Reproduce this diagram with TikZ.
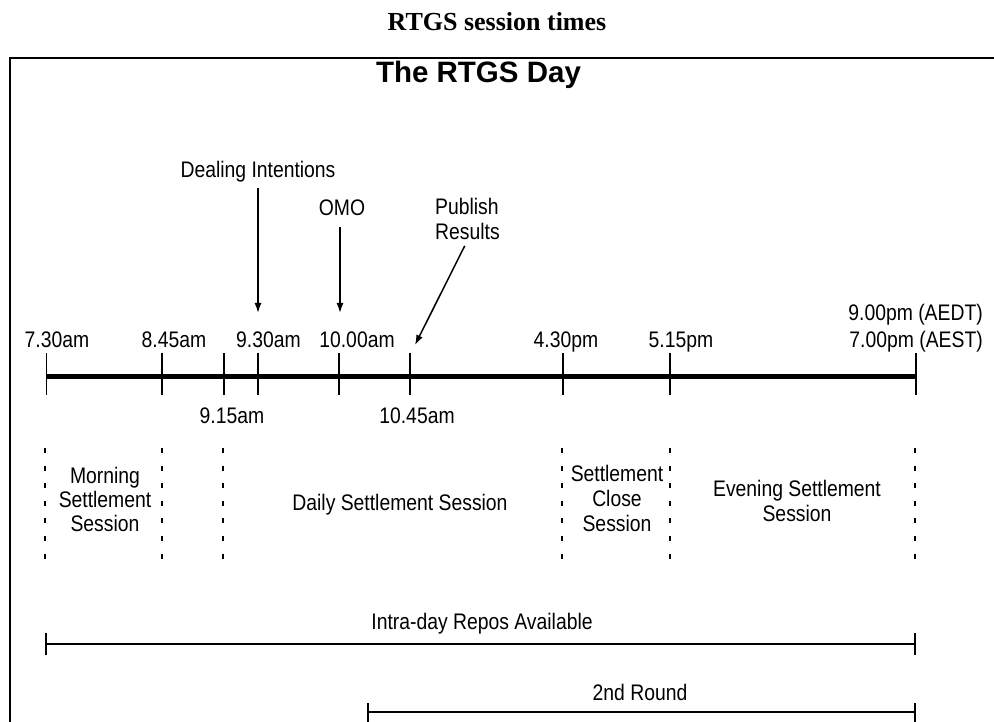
\documentclass[tikz,border=0pt]{standalone}
\usepackage{fontspec}
\setmainfont{Liberation Sans}
\newfontfamily\narrowsans[FakeStretch=0.86]{Liberation Sans}
\newfontfamily\titleserif{Liberation Serif}
\usetikzlibrary{arrows.meta}
\begin{document}
\begin{tikzpicture}[x=1pt,y=-1pt,
  lbl/.style={inner sep=0pt, anchor=base, font=\narrowsans\fontsize{22.5}{25}\selectfont},
  tickline/.style={line width=1.5pt},
  timeline/.style={line width=5pt, line cap=butt},
  arr/.style={-{Latex[length=10pt,width=7pt]}, line width=1.5pt},
  sepline/.style={line width=1.3pt, dash pattern=on 5pt off 12.6pt},
  spanline/.style={line width=1.8pt},
  frameline/.style={line width=2pt}]
\useasboundingbox (0,0) rectangle (994,722);
\fill[white] (0,0) rectangle (994,722);

% titles and frame
\node[lbl, font=\titleserif\bfseries\fontsize{26}{30}\selectfont] (title) at (497,31) {RTGS session times};
\draw[frameline] (994,58) -- (10,58) -- (10,722);
\node[lbl, font=\bfseries\fontsize{29.5}{34}\selectfont] (day) at (478.5,83) {The RTGS Day};

% timeline
\coordinate (tlstart) at (46.5,376);
\coordinate (tlend) at (916,376);
\draw[timeline] (tlstart) -- (tlend);
\foreach \n/\x in {a/46.5, b/162, c/224, d/258, e/339, f/410, g/563, h/670, i/916} {
  \coordinate (top\n) at (\x,353);
  \coordinate (bot\n) at (\x,395);
  \draw[tickline] (top\n) -- (bot\n);
}

% time labels
\node[lbl] (l730) at (57,347) {7.30am};
\node[lbl] (l845) at (174,347) {8.45am};
\node[lbl] (l930) at (268.5,347) {9.30am};
\node[lbl] (l1000) at (357,347) {10.00am};
\node[lbl] (l430) at (566,347) {4.30pm};
\node[lbl] (l515) at (681,347) {5.15pm};
\node[lbl, anchor=base east] (laedt) at (983,320) {9.00pm (AEDT)};
\node[lbl, anchor=base east] (laest) at (983,347) {7.00pm (AEST)};
\node[lbl] (l915) at (232,423.5) {9.15am};
\node[lbl] (l1045) at (417,423.5) {10.45am};

% events
\node[lbl] (deal) at (258,178) {Dealing Intentions};
\node[lbl] (omo) at (342,216) {OMO};
\node[lbl, anchor=base west] (pub1) at (435,215) {Publish};
\node[lbl, anchor=base west] (pub2) at (435,240) {Results};
\coordinate (dealtip) at (258,313);
\coordinate (omotip) at (340,313);
\coordinate (pubtip) at (415,345);
\draw[arr, shorten <=5.5pt] (deal.south) -- (dealtip);
\draw[arr, shorten <=11pt] (omo.south -| omotip) -- (omotip);
\draw[arr, shorten <=6pt] (pub2.south) -- (pubtip);

% session separators
\foreach \x in {45,162,223,562,670,915} {
  \draw[sepline] (\x,448) -- (\x,560);
}

% sessions
\node[lbl] (m1) at (105,483) {Morning};
\node[lbl] (m2) at (105,507) {Settlement};
\node[lbl] (m3) at (105,531) {Session};
\node[lbl] (daily) at (400,510) {Daily Settlement Session};
\node[lbl] (c1) at (617,481) {Settlement};
\node[lbl] (c2) at (617,506) {Close};
\node[lbl] (c3) at (617,531) {Session};
\node[lbl] (ev1) at (797,496) {Evening Settlement};
\node[lbl] (ev2) at (797,521) {Session};

% intra-day repos
\node[lbl] (intra) at (482,629) {Intra-day Repos Available};
\coordinate (ia) at (46,644);
\coordinate (ib) at (915,644);
\draw[spanline] (ia) -- (ib);
\draw[spanline] ([yshift=11pt]ia) -- ([yshift=-11pt]ia);
\draw[spanline] ([yshift=11pt]ib) -- ([yshift=-11pt]ib);

% 2nd round
\node[lbl] (round) at (640,700) {2nd Round};
\coordinate (ra) at (368,712);
\coordinate (rb) at (915,712);
\draw[spanline] (ra) -- (rb);
\draw[spanline] ([yshift=9pt]ra) -- ([yshift=-12pt]ra);
\draw[spanline] ([yshift=9pt]rb) -- ([yshift=-12pt]rb);
\end{tikzpicture}
\end{document}
